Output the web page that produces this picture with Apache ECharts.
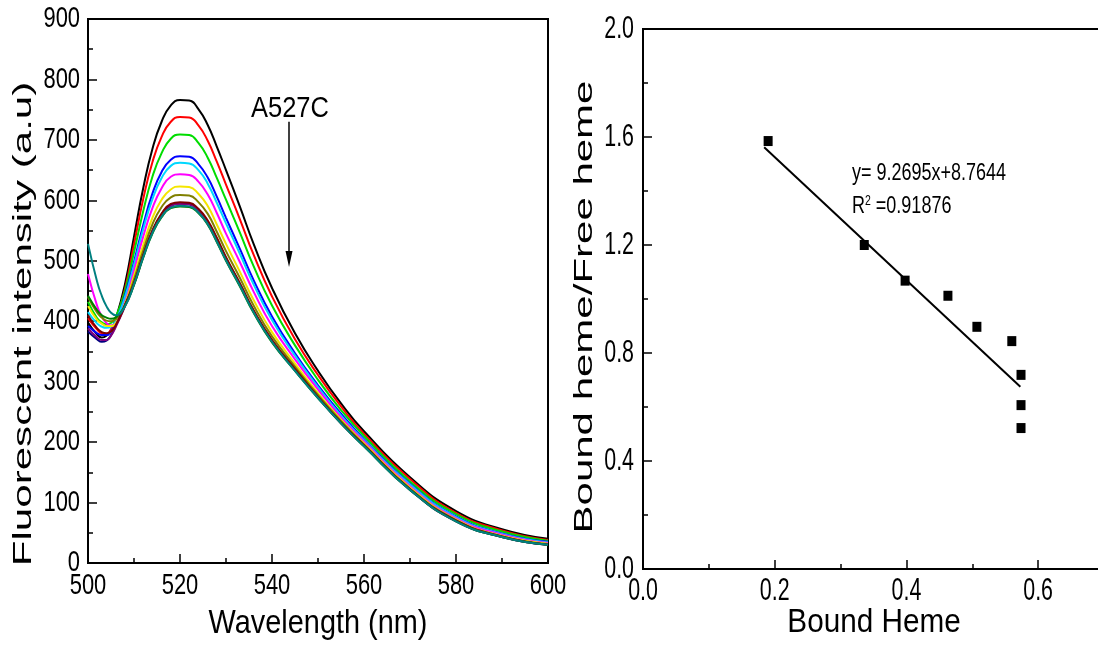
<!DOCTYPE html>
<html>
<head>
<meta charset="utf-8">
<script src="https://cdn.jsdelivr.net/npm/echarts@6/dist/echarts.min.js"></script>
<style>
html,body{margin:0;padding:0;background:#fff;}
#chart{width:1098px;height:654px;}
</style>
</head>
<body>
<div id="chart"></div>
<script>
// ---------- Left panel: fluorescence spectra ----------
const wavelength = [500, 502, 503, 504, 505, 506, 508, 510, 512, 514, 516, 518, 520, 522, 524, 526, 528, 530, 533, 536, 540, 545, 550, 555, 560, 570, 580, 590, 600];
const curveBlack   = [398, 378, 373, 376, 386, 403, 460, 540, 620, 685, 730, 757, 766, 765, 751, 725, 689, 650, 590, 528, 455, 380, 318, 264, 218, 142, 86, 56, 40];
const curveRed     = [405, 386, 380, 379, 386, 400, 452, 527, 602, 663, 705, 730, 738, 737, 724, 699, 664, 626, 569, 510, 441, 370, 311, 259, 214, 139, 83, 54, 38];
const curveGreen   = [432, 405, 398, 395, 397, 406, 449, 514, 582, 639, 678, 702, 709, 708, 695, 671, 637, 601, 547, 491, 426, 360, 303, 253, 210, 135, 81, 52, 37];
const curveBlue    = [392, 380, 377, 377, 383, 396, 442, 498, 559, 611, 647, 667, 673, 672, 660, 638, 606, 571, 520, 468, 408, 347, 294, 247, 205, 131, 77, 49, 35];
const curveCyan    = [415, 396, 391, 389, 391, 400, 439, 493, 552, 602, 637, 657, 662, 661, 650, 628, 596, 562, 512, 461, 402, 343, 291, 244, 203, 130, 76, 48, 34];
const curveMagenta = [478, 425, 408, 397, 393, 396, 430, 484, 540, 587, 620, 639, 643, 642, 631, 610, 579, 545, 498, 449, 392, 337, 287, 241, 201, 127, 74, 47, 33];
const curveYellow  = [425, 402, 396, 392, 392, 396, 428, 475, 526, 571, 601, 618, 623, 622, 611, 591, 560, 528, 482, 435, 382, 330, 281, 237, 198, 125, 72, 45, 32];
const curveDkYellow= [440, 414, 406, 401, 400, 403, 426, 469, 517, 560, 589, 605, 609, 608, 597, 578, 548, 516, 472, 426, 375, 325, 278, 235, 196, 123, 71, 44, 31];
const curveNavy    = [383, 370, 366, 368, 377, 392, 426, 462, 508, 549, 577, 592, 595, 594, 584, 565, 536, 504, 462, 417, 368, 320, 274, 232, 194, 122, 70, 43, 30];
const curvePurple  = [388, 373, 369, 369, 376, 390, 424, 461, 507, 548, 575, 590, 594, 593, 583, 563, 535, 503, 461, 416, 367, 319, 274, 231, 194, 121, 69, 43, 30];
const curveWine    = [410, 388, 382, 380, 383, 393, 425, 463, 509, 550, 578, 594, 597, 596, 586, 567, 538, 506, 463, 418, 369, 321, 275, 232, 195, 122, 70, 44, 30];
const curveOlive   = [442, 418, 410, 406, 404, 406, 425, 460, 505, 545, 572, 587, 590, 589, 579, 560, 531, 500, 458, 414, 365, 318, 273, 231, 193, 121, 69, 43, 30];
const curveDkCyan  = [528, 465, 442, 425, 414, 410, 424, 461, 506, 546, 573, 588, 591, 590, 580, 561, 532, 501, 459, 415, 366, 318, 273, 231, 193, 121, 69, 43, 30];

const curveList = [curveBlack, curveRed, curveGreen, curveBlue, curveCyan, curveMagenta, curveYellow, curveDkYellow, curveNavy, curvePurple, curveWine, curveOlive, curveDkCyan];
const curveNames = ['c1','c2','c3','c4','c5','c6','c7','c8','c9','c10','c11','c12','c13'];
const curveColors = ['#000000','#ff0000','#00dd00','#0000ff','#00d8ff','#ff00ff','#f5e600','#808000','#000080','#800080','#800000','#008000','#008080'];
const xTicksLeft = [500, 520, 540, 560, 580, 600];
const yTicksLeft = [0, 100, 200, 300, 400, 500, 600, 700, 800, 900];

// ---------- Right panel: binding plot ----------
const boundHeme = [0.190, 0.336, 0.398, 0.463, 0.507, 0.560, 0.574, 0.574, 0.574];
const boundFreeRatio = [1.585, 1.200, 1.068, 1.012, 0.897, 0.844, 0.719, 0.607, 0.522];
const fitX = [0.184, 0.573];
const fitY = [1.562, 0.675];
const xTicksRight = [0.0, 0.2, 0.4, 0.6];
const yTicksRight = [0.0, 0.4, 0.8, 1.2, 1.6, 2.0];

const FONT = '"Liberation Sans", Arial, sans-serif';

const chart = echarts.init(document.getElementById('chart'), null, {renderer: 'canvas'});

function axisCommon(){
  return {
    axisLine: {show: true, onZero: false, lineStyle: {color: '#000', width: 2}},
    axisTick: {show: true, inside: true, length: 9, lineStyle: {color: '#000', width: 1.5}},
    minorTick: {show: true, splitNumber: 2, length: 5, lineStyle: {color: '#000', width: 1.5}},
    axisLabel: {show: false},
    splitLine: {show: false},
    minorSplitLine: {show: false}
  };
}

const lineSeries = curveList.map((arr, k) => ({
  type: 'line',
  name: curveNames[k],
  xAxisIndex: 0, yAxisIndex: 0,
  data: wavelength.map((w, i) => [w, arr[i]]),
  smooth: 0.5,
  showSymbol: false,
  symbol: 'none',
  lineStyle: {color: curveColors[k], width: 2},
  itemStyle: {color: curveColors[k]},
  z: 2 + k
}));

// arrow annotation on the spectra (data coordinates)
lineSeries[0].markLine = {
  silent: true,
  symbol: ['none', 'none'],
  lineStyle: {color: '#000', width: 1.5, type: 'solid'},
  label: {show: false},
  data: [[{coord: [543.7, 730]}, {coord: [543.7, 500]}]]
};
lineSeries[0].markPoint = {
  silent: true,
  symbol: 'triangle',
  symbolRotate: 180,
  symbolSize: [7, 16],
  itemStyle: {color: '#000'},
  label: {show: false},
  data: [{coord: [543.7, 503]}]
};

const option = {
  animation: false,
  backgroundColor: '#fff',
  textStyle: {fontFamily: FONT},
  grid: [
    {left: 88, top: 19, width: 460, height: 544, outerBoundsMode: 'none', containLabel: false,
      show: true, borderColor: '#000', borderWidth: 2, backgroundColor: 'transparent'},
    {left: 643, top: 29, width: 461, height: 540, outerBoundsMode: 'none', containLabel: false,
      show: true, borderColor: '#000', borderWidth: 2, backgroundColor: 'transparent'}
  ],
  xAxis: [
    Object.assign(axisCommon(), {type: 'value', gridIndex: 0, min: 500, max: 600, interval: 20}),
    Object.assign(axisCommon(), {type: 'value', gridIndex: 1, min: 0, max: 0.7, interval: 0.2})
  ],
  yAxis: [
    Object.assign(axisCommon(), {type: 'value', gridIndex: 0, min: 0, max: 900, interval: 100}),
    Object.assign(axisCommon(), {type: 'value', gridIndex: 1, min: 0, max: 2.0, interval: 0.4})
  ],
  series: lineSeries.concat([
    {
      type: 'line', name: 'fit', xAxisIndex: 1, yAxisIndex: 1,
      data: fitX.map((x, i) => [x, fitY[i]]),
      showSymbol: false, symbol: 'none',
      lineStyle: {color: '#000', width: 2}, z: 20
    },
    {
      type: 'scatter', name: 'points', xAxisIndex: 1, yAxisIndex: 1,
      data: boundHeme.map((x, i) => [x, boundFreeRatio[i]]),
      symbol: 'rect', symbolSize: [9, 10],
      itemStyle: {color: '#000', opacity: 1}, z: 21
    }
  ])
};
chart.setOption(option);

// Text elements: titles, annotation, condensed tick labels
function txt(x, y, text, size, sx, align, extra){
  return Object.assign({type: 'text', x: x, y: y, scaleX: sx, scaleY: 1,
    style: {text: text, font: size + 'px ' + FONT, fill: '#000', align: align, verticalAlign: 'middle'}}, extra || {});
}
const graphics = [
  {type: 'text', x: 24, y: 324, rotation: Math.PI / 2, scaleX: 1.62, scaleY: 1,
    style: {text: 'Fluorescent intensity (a.u)', font: '26px ' + FONT, fill: '#000', align: 'center', verticalAlign: 'middle'}},
  {type: 'text', x: 585, y: 307, rotation: Math.PI / 2, scaleX: 1.68, scaleY: 1,
    style: {text: 'Bound heme/Free heme', font: '25px ' + FONT, fill: '#000', align: 'center', verticalAlign: 'middle'}},
  txt(318, 624, 'Wavelength (nm)', 33, 0.875, 'center'),
  txt(874, 623, 'Bound Heme', 33, 0.9, 'center'),
  txt(251, 109, 'A527C', 30, 0.85, 'left'),
  txt(852, 173, 'y= 9.2695x+8.7644', 24, 0.75, 'left'),
  {type: 'text', x: 852, y: 206, scaleX: 0.75, scaleY: 1,
    style: {text: '{r|R}{s|2}{r| =0.91876}', fill: '#000', align: 'left', verticalAlign: 'middle',
      rich: {r: {fontSize: 24, fontFamily: FONT, fill: '#000', verticalAlign: 'bottom'},
             s: {fontSize: 14, fontFamily: FONT, fill: '#000', verticalAlign: 'top'}}}}
];
xTicksLeft.forEach(v => {
  const p = chart.convertToPixel({gridIndex: 0}, [v, 0]);
  graphics.push(txt(p[0], p[1] + 23, String(v), 30, 0.73, 'center'));
});
yTicksLeft.forEach(v => {
  const p = chart.convertToPixel({gridIndex: 0}, [500, v]);
  graphics.push(txt(p[0] - 8, p[1], String(v), 30, 0.73, 'right'));
});
xTicksRight.forEach(v => {
  const p = chart.convertToPixel({gridIndex: 1}, [v, 0]);
  graphics.push(txt(p[0], p[1] + 22, v.toFixed(1), 31, 0.69, 'center'));
});
yTicksRight.forEach(v => {
  const p = chart.convertToPixel({gridIndex: 1}, [0, v]);
  graphics.push(txt(p[0] - 9, p[1], v.toFixed(1), 31, 0.69, 'right'));
});
chart.setOption({graphic: graphics});
</script>
</body>
</html>
